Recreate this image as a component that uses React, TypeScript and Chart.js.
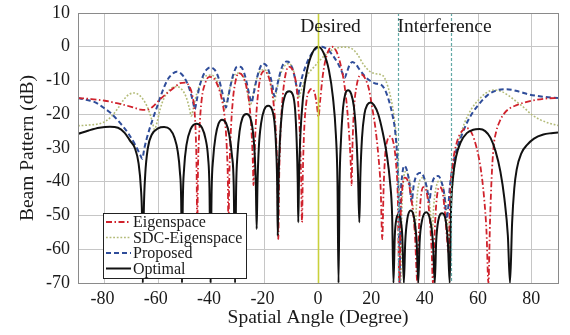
import React, { useEffect, useRef } from 'react';
import { Chart, registerables } from 'chart.js';

Chart.register(...registerables);

// ---- data ----
const xTickValues = [-90, -80, -60, -40, -20, 0, 20, 40, 60, 80, 90];
const yTickStep = 10;
const yMin = -70;
const yMax = 10;
const desiredAngle = 0;
const interferenceAngles = [30, 50];
const seriesNames = ['Eigenspace', 'SDC-Eigenspace', 'Proposed', 'Optimal'];

const eigenspace: [number, number][] = [
  [-90, -15.2], [-85, -15.5], [-80, -16], [-75, -16.8], [-70, -17.8], [-66.5, -18.6], [-64.2, -18.7], [-62, -17.8], [-60, -16.2], [-58, -14.7], [-56.2, -13.5], [-53.5, -11.8], [-51.7, -10.8], [-49.8, -10.6], [-48.2, -11.8], [-47.1, -14.5], [-46.3, -19], [-45.8, -27], [-45.5, -38], [-45.3, -55],
  [-45, -36], [-44.5, -25], [-43.6, -15.5], [-42.3, -10.8], [-40.8, -8.9], [-39.3, -9.2], [-37.6, -11.5], [-36.1, -15.5], [-35, -21], [-34.2, -30], [-33.8, -40], [-33.6, -55],
  [-33.3, -40], [-32.8, -27], [-32, -16.5], [-31, -10.5], [-29.7, -7.8], [-28.3, -8.6], [-26.8, -12], [-25.6, -18], [-24.8, -27], [-24.4, -35], [-24.2, -41],
  [-23.9, -35], [-23.4, -24], [-22.5, -14], [-21.5, -8.8], [-20.2, -7.2], [-18.9, -8.2], [-17.6, -11.8], [-16.5, -18], [-15.7, -27], [-15.2, -40], [-14.9, -57],
  [-14.6, -40], [-14.1, -26], [-13.2, -14.5], [-12.2, -8.3], [-11, -5.9], [-9.7, -6.6], [-8.4, -10], [-7.4, -17], [-6.7, -28], [-6.3, -40], [-6, -52],
  [-5.7, -38], [-5.2, -25], [-4.3, -16], [-3.2, -13], [-2.2, -12.5], [-1.2, -13.8], [-0.4, -17.5], [0.2, -20.8], [0.8, -16], [1.8, -8.5], [3, -3.3], [4.2, -0.7], [5.3, 0], [6.4, -0.7], [7.6, -2.8], [8.8, -6.5], [10, -11.8], [11, -19], [11.8, -27.5], [12.3, -35], [12.6, -41],
  [12.9, -30], [13.5, -18.5], [14.5, -11.5], [15.5, -8.7], [16.5, -8.3], [17.8, -9.6], [19.1, -12.5], [20.1, -17], [21.5, -24], [22.6, -32], [23.5, -42], [24.1, -57],
  [24.6, -42], [25.2, -32], [26.1, -27.5], [27.2, -26.5], [28.3, -28.5], [29.2, -34], [29.9, -44], [30.5, -70],
  [31, -50], [31.6, -42], [32.6, -38.8], [33.8, -40], [35, -45], [36.3, -55], [37.3, -70],
  [37.8, -55], [38.4, -46], [39.5, -41.6], [40.7, -43], [41.8, -50], [42.6, -60], [43.1, -70],
  [43.6, -58], [44.3, -47], [45.5, -41.6], [46.7, -43], [47.7, -50], [48.5, -58], [49, -61],
  [49.5, -45], [50.5, -35], [52, -28.5], [54, -25], [55.8, -24.1], [57.6, -25.5], [59.5, -30], [61, -36], [62.2, -44], [63.2, -55], [63.9, -70],
  [64.5, -52], [65.1, -39], [65.8, -30], [66.8, -25.2], [68.2, -22], [70, -19.6], [72, -18.2], [74.5, -17.3], [77, -16.6], [82, -15.7], [86, -15.3], [90, -15.2],
];

const sdcEigenspace: [number, number][] = [
  [-90, -23.4], [-86, -23.2], [-82, -22.8], [-79.5, -22], [-77.3, -20.5], [-75, -18.2], [-72.8, -15.6], [-70.8, -14.1], [-68.8, -13.7], [-66.8, -14.5], [-65, -16.3], [-63.4, -19], [-62.2, -22], [-61.3, -24.5], [-60.4, -22.5], [-59.2, -18.5], [-57.6, -15], [-55.6, -12.7], [-53.2, -11.8], [-51, -12.7], [-49.4, -15], [-48.3, -18], [-47.5, -20.5],
  [-46.7, -18], [-45.5, -14], [-43.8, -10.2], [-41.9, -8.6], [-40, -8.4], [-38.4, -9.4], [-37, -12], [-35.8, -15.5], [-34.9, -18.5],
  [-34.1, -16], [-33, -12], [-31.6, -8.8], [-30, -7.8], [-28.5, -8.3], [-27.2, -10.8], [-26.2, -14.5], [-25.4, -17.5],
  [-24.6, -15], [-23.5, -10.8], [-22.1, -7.7], [-20.5, -6.8], [-19, -7.5], [-17.9, -10.5], [-17, -14], [-16.4, -16.5],
  [-15.6, -13.5], [-14.4, -9], [-12.8, -6], [-11, -5], [-9.5, -6.3], [-8.5, -9.5], [-7.8, -13], [-7.2, -15.2],
  [-6.5, -13.5], [-5, -10], [-3.5, -7.8], [-1.5, -6], [0.5, -4.2], [2.5, -2.6], [4.7, -1.2], [7, -0.4], [9.5, -0.1], [11.5, -0.2], [13.3, -0.9], [15, -2.5], [17, -5.2], [19.3, -7.2], [21.5, -8], [23.4, -8.2], [24.8, -9], [26.2, -11.8], [27.4, -15.5], [28.5, -20.5], [29.4, -27], [30.1, -37], [30.6, -50], [31, -70],
  [31.4, -50], [32, -40], [32.9, -37], [34, -38.5], [35.1, -43], [35.9, -50], [36.4, -55], [37, -46], [38, -40], [39.3, -38.8], [40.5, -40.5], [41.5, -44.5], [42.3, -50], [42.8, -55], [43.4, -47], [44.5, -41], [45.7, -39.7], [46.9, -41.5], [47.9, -46], [48.7, -53], [49.3, -60],
  [49.9, -48], [50.6, -40], [51.6, -33], [53, -27.5], [55, -22.5], [57.5, -18.5], [60.5, -15.5], [63.2, -13.6], [66, -12.8], [68.7, -13.2], [71.5, -14.5], [74.5, -16.3], [77.2, -18], [80.3, -20.2], [83.3, -21.6], [86.5, -22.6], [90, -23.3],
];

const proposed: [number, number][] = [
  [-90, -15.2], [-86.5, -15.8], [-83.7, -16.4], [-80.5, -18], [-77.5, -19.8], [-74.3, -22.5], [-71.2, -25.6], [-68.6, -29], [-66.7, -32], [-65.9, -33.2], [-65.1, -30], [-63.8, -26], [-62, -21.5], [-60, -17], [-58, -12.5], [-56.2, -9.5], [-54.5, -8], [-53.1, -7.4], [-51.3, -8], [-49.5, -10], [-48, -13], [-46.9, -16.2], [-46.2, -18.5],
  [-45.5, -16], [-44.5, -12], [-43.2, -8.8], [-41.8, -6.8], [-40.3, -6.1], [-38.8, -6.8], [-37.4, -9], [-36.2, -12.5], [-35.2, -16], [-34.5, -18],
  [-33.8, -15.5], [-32.8, -11.5], [-31.6, -7.8], [-30.3, -5.9], [-28.9, -6], [-27.6, -8], [-26.5, -11.5], [-25.6, -14.8], [-24.9, -16.5],
  [-24.2, -14.2], [-23.2, -10.3], [-22, -6.8], [-20.7, -5], [-19.4, -5.5], [-18.2, -7.8], [-17.1, -11.5], [-16.3, -14.7],
  [-15.6, -12.5], [-14.6, -9], [-13.3, -5.6], [-11.8, -4.4], [-10.4, -5], [-9.2, -7.5], [-8.2, -11.2], [-7.5, -14.5],
  [-7, -12.5], [-5.8, -8.5], [-4, -4.5], [-2, -1.6], [0, -0.2], [1.5, 0], [3.5, -0.8], [5.5, -2.5], [7.5, -5], [9, -7.5], [10, -9.2], [10.8, -7.6], [11.8, -5.5], [12.9, -4.5], [14.2, -5.2], [15.6, -6.8], [17.4, -8.6], [19.4, -10], [21.5, -10.9], [23.5, -11.2], [25, -12.6], [26.6, -16], [28, -20.5], [29, -25.5], [29.7, -33], [30.2, -45], [30.6, -70],
  [31, -46], [31.6, -38], [32.4, -35.3], [33.3, -36.5], [34.3, -40.5], [35.1, -46], [35.9, -41], [37.2, -37.8], [38.7, -37.3], [40, -39.3], [41, -42.5], [41.7, -46], [42.5, -41.5], [43.8, -38.6], [45.1, -38.3], [46.3, -40], [47.4, -44], [48.3, -51],
  [48.8, -48], [49.5, -41], [50.5, -35.5], [52, -30.3], [54, -26], [55.8, -22.6], [58, -19.5], [60.7, -16.7], [63.5, -14.4], [67, -12.9], [70.7, -12.6], [75, -13.2], [79.5, -14.2], [84.5, -14.8], [90, -15.2],
];

const optimal: [number, number][] = [
  [-90, -25.8], [-86, -24.8], [-82, -24], [-78, -23.7], [-75, -24], [-72.5, -25.5], [-70.5, -27.8], [-68.7, -30], [-67.3, -34.5], [-66.4, -42], [-66, -50], [-65.7, -70],
  [-65.3, -48], [-64.8, -38], [-63.8, -30], [-62.3, -26], [-60, -24.2], [-57.7, -23.8], [-55.5, -24.5], [-53.8, -27], [-52.6, -31], [-51.8, -37], [-51.3, -46], [-51, -70],
  [-50.7, -46], [-50.2, -36], [-49.3, -29], [-47.8, -24.5], [-45.6, -22.8], [-43.5, -24], [-42.1, -27.5], [-41.2, -33], [-40.7, -42], [-40.3, -70],
  [-39.9, -43], [-39.3, -33], [-38.4, -26.5], [-37.3, -22.8], [-36, -21.6], [-34.5, -22.6], [-33.3, -26], [-32.3, -32], [-31.6, -41], [-31.1, -70],
  [-30.7, -42], [-30.2, -32], [-29.4, -25], [-28.3, -21], [-26.8, -19.9], [-25.4, -21], [-24.5, -24.5], [-23.8, -31], [-23.3, -41], [-23, -54],
  [-22.7, -41], [-22.2, -30], [-21.3, -22.5], [-20.2, -18.7], [-18.7, -17.5], [-17.2, -18.7], [-16.3, -22.5], [-15.7, -30], [-15.3, -41], [-15.1, -56],
  [-14.8, -40], [-14.3, -28], [-13.4, -18.5], [-12.3, -14.3], [-10.8, -13.2], [-9.4, -14.3], [-8.6, -18.5], [-8, -28], [-7.6, -40], [-7.4, -52],
  [-7.1, -38], [-6.6, -26], [-5.6, -15], [-4.1, -7], [-2.1, -1.8], [0, 0], [2.1, -1.8], [4.1, -7], [5.6, -15], [6.7, -26], [7.3, -40], [7.7, -70],
  [8.1, -40], [8.6, -28], [9.4, -18], [10.3, -13.8], [11.3, -12.9], [12.4, -13.9], [13.5, -18], [14.4, -27], [15, -38], [15.5, -52],
  [15.9, -38], [16.5, -27], [17.4, -20], [18.5, -17.2], [19.7, -16.5], [21, -17.3], [22.6, -20], [24.3, -25.5], [25.8, -32], [27, -40], [27.8, -50], [28.3, -70],
  [28.8, -56], [29.4, -51], [30.1, -49.8], [30.9, -51], [31.6, -56], [32.2, -70],
  [32.7, -58], [33.5, -51], [34.8, -48.5], [36.1, -51], [37, -58], [37.6, -70],
  [38.1, -58], [39, -51.5], [40.6, -49], [42.1, -51.5], [43.1, -58], [43.8, -70],
  [44.3, -58], [45.1, -51.5], [46.6, -49.3], [47.9, -51.5], [48.7, -58], [49.4, -70],
  [49.9, -48], [50.6, -39], [51.8, -32.5], [53.5, -28.3], [55.8, -25.6], [58.2, -24.6], [60.5, -24.4], [62.7, -25], [64.7, -27], [66.6, -31], [68.4, -37], [69.9, -45], [71.2, -56], [72, -70],
  [72.8, -52], [73.6, -42], [74.5, -36.4], [76.3, -31.5], [78.5, -29], [81, -27.2], [84.5, -26], [87.5, -25.6], [90, -25.4],
];

// ---- styles ----
const SERIF = '"Liberation Serif", "DejaVu Serif", "Times New Roman", serif';

const seriesStyles = [
  { color: '#d0222c', dash: [6, 2.5, 1.5, 2.5], width: 1.8 },
  { color: '#b3bb78', dash: [1.8, 1.8], width: 1.6 },
  { color: '#2f4d9a', dash: [5, 3], width: 2 },
  { color: '#111111', dash: [] as number[], width: 2 },
];
const seriesData = [eigenspace, sdcEigenspace, proposed, optimal];
const drawOrder = [1, 3, 2, 0];

const overlayPlugin = {
  id: 'overlay',
  afterDatasetsDraw(chart: any) {
    const { ctx, chartArea, scales } = chart;
    const xs = scales.x;
    ctx.save();
    // desired line
    const xd = Math.round(xs.getPixelForValue(desiredAngle)) + 0.5;
    ctx.strokeStyle = '#c9d13c';
    ctx.lineWidth = 1.6;
    ctx.setLineDash([]);
    ctx.beginPath();
    ctx.moveTo(xd, chartArea.top);
    ctx.lineTo(xd, chartArea.bottom);
    ctx.stroke();
    // interference lines
    ctx.strokeStyle = '#62a9a6';
    ctx.lineWidth = 1.2;
    ctx.setLineDash([3, 2]);
    interferenceAngles.forEach((a) => {
      const xi = Math.round(xs.getPixelForValue(a)) + 0.5;
      ctx.beginPath();
      ctx.moveTo(xi, chartArea.top);
      ctx.lineTo(xi, chartArea.bottom);
      ctx.stroke();
    });
    ctx.setLineDash([]);
    // plot border
    ctx.strokeStyle = '#8a8a8a';
    ctx.lineWidth = 1;
    ctx.strokeRect(
      Math.round(chartArea.left) + 0.5,
      Math.round(chartArea.top) + 0.5,
      Math.round(chartArea.right - chartArea.left),
      Math.round(chartArea.bottom - chartArea.top)
    );
    // annotation texts
    ctx.fillStyle = '#1a1a1a';
    ctx.font = `19.5px ${SERIF}`;
    ctx.textBaseline = 'alphabetic';
    ctx.textAlign = 'center';
    ctx.fillText('Desired', xs.getPixelForValue(desiredAngle) + 12.5, chartArea.top + 19);
    ctx.textAlign = 'left';
    ctx.fillText('Interference', xs.getPixelForValue(interferenceAngles[0]) - 0.5, chartArea.top + 19);

    // legend
    const bx = Math.round(chartArea.left) + 25;
    const by = Math.round(chartArea.bottom) - 70;
    const bw = 143;
    const bh = 65;
    ctx.fillStyle = '#ffffff';
    ctx.fillRect(bx, by, bw, bh);
    ctx.strokeStyle = '#222222';
    ctx.lineWidth = 1;
    ctx.strokeRect(bx + 0.5, by + 0.5, bw, bh);
    ctx.font = `16px ${SERIF}`;
    ctx.textBaseline = 'middle';
    ctx.textAlign = 'left';
    seriesNames.forEach((name, i) => {
      const y = by + 9 + i * 15.5;
      const st = seriesStyles[i];
      ctx.strokeStyle = st.color;
      ctx.lineWidth = st.width;
      ctx.setLineDash(st.dash);
      ctx.beginPath();
      ctx.moveTo(bx + 3, y);
      ctx.lineTo(bx + 28, y);
      ctx.stroke();
      ctx.setLineDash([]);
      ctx.fillStyle = '#1a1a1a';
      ctx.fillText(name, bx + 30, y + 1);
    });
    ctx.restore();
  },
};

export default function App() {
  const canvasRef = useRef<HTMLCanvasElement | null>(null);

  useEffect(() => {
    if (!canvasRef.current) return;
    const chart = new Chart(canvasRef.current, {
      type: 'line',
      data: {
        datasets: seriesNames.map((name, i) => ({
          label: name,
          data: seriesData[i].map(([x, y]) => ({ x, y })),
          borderColor: seriesStyles[i].color,
          borderWidth: seriesStyles[i].width,
          borderDash: seriesStyles[i].dash,
          pointRadius: 0,
          fill: false,
          cubicInterpolationMode: 'monotone' as const,
          order: drawOrder[i],
        })),
      },
      options: {
        responsive: false,
        animation: false,
        events: [],
        layout: { padding: { top: 13, right: 12, left: 0, bottom: 0 } },
        plugins: {
          legend: { display: false },
          tooltip: { enabled: false },
          title: { display: false },
        },
        scales: {
          x: {
            type: 'linear',
            min: xTickValues[0],
            max: xTickValues[xTickValues.length - 1],
            afterBuildTicks: (scale: any) => {
              scale.ticks = xTickValues.map((v) => ({ value: v }));
            },
            afterFit: (scale: any) => {
              scale.height = 52;
              scale.paddingLeft = 0;
              scale.paddingRight = 0;
            },
            ticks: {
              autoSkip: false,
              maxRotation: 0,
              padding: 5,
              color: '#1a1a1a',
              font: { family: SERIF, size: 18 },
              callback: (v: any) =>
                v === xTickValues[0] || v === xTickValues[xTickValues.length - 1]
                  ? ''
                  : v < 0
                  ? `${v} `
                  : String(v),
            },
            grid: { color: '#c6c6c6', lineWidth: 1, drawTicks: false },
            border: { display: false },
            title: {
              display: true,
              text: 'Spatial Angle (Degree)',
              color: '#1a1a1a',
              font: { family: SERIF, size: 19.5 },
              padding: { top: 0, bottom: 5 },
            },
          },
          y: {
            type: 'linear',
            min: yMin,
            max: yMax,
            afterFit: (scale: any) => {
              scale.width = 78;
              scale.paddingTop = 0;
              scale.paddingBottom = 0;
            },
            ticks: {
              stepSize: yTickStep,
              padding: 8,
              color: '#1a1a1a',
              font: { family: SERIF, size: 18 },
              callback: (v: any) => String(v),
            },
            grid: { color: '#c6c6c6', lineWidth: 1, drawTicks: false },
            border: { display: false },
            title: {
              display: true,
              text: 'Beam Pattern (dB)',
              color: '#1a1a1a',
              font: { family: SERIF, size: 19.5 },
              padding: { top: 16, bottom: 0 },
            },
          },
        },
      },
      plugins: [overlayPlugin],
    });
    return () => chart.destroy();
  }, []);

  return (
    <div style={{ position: 'absolute', left: 0, top: 0, width: 570, height: 335, background: '#fff' }}>
      <canvas ref={canvasRef} width={570} height={335} style={{ display: 'block' }} />
    </div>
  );
}
